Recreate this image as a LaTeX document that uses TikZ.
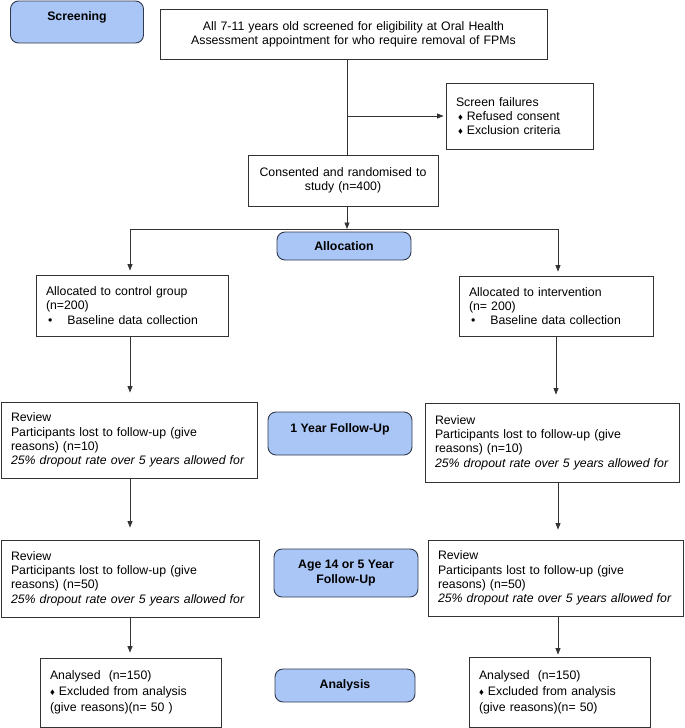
\documentclass[tikz,border=0pt]{standalone}
\usepackage{fontspec}
\setmainfont{Liberation Sans}
\usetikzlibrary{arrows.meta}
\definecolor{phasefill}{RGB}{170,198,246}
\definecolor{phasedraw}{RGB}{48,58,78}
\newcommand{\dmd}{{\fontsize{9.5}{9.5}\selectfont ♦}}
\tikzset{
  flowbox/.style = {draw=black!80, line width=0.8pt, inner xsep=10pt, inner ysep=0pt, align=left,
    font=\fontsize{12.3}{14.3}\selectfont},
  midbox/.style = {flowbox, align=center},
  phase/.style = {draw=phasedraw, fill=phasefill, rounded corners=8pt, line width=0.9pt, align=center,
    inner sep=0pt, font=\fontsize{12.3}{14.3}\selectfont\bfseries},
  box size/.code 2 args = {\pgfmathsetlengthmacro\boxtw{#1pt-20pt}%
    \edef\boxopts{\noexpand\tikzset{minimum width=#1pt, minimum height=#2pt, text width=\boxtw}}\boxopts},
  flowline/.style = {draw=black!80, line width=0.8pt},
  flowarrow/.style = {flowline, -{Triangle[length=6.5pt,width=5pt]}},
}
\begin{document}
\begin{tikzpicture}[x=1pt, y=-1pt]
  \useasboundingbox (0,0) rectangle (685,728);
  \node [phase, minimum width=133pt, minimum height=42pt, text height=9pt, text depth=13pt] (scr) at (77,22) {Screening};
  \node [midbox, box size={387}{50}] (elig) at (353.5,34)
    {All 7-11 years old screened for eligibility at Oral Health\\Assessment appointment for who require removal of FPMs};
  \node [flowbox, box size={147}{66}] (fail) at (519.5,116)
    {Screen failures\\\hspace*{2pt}\dmd\hspace{4pt}Refused consent\\\hspace*{2pt}\dmd\hspace{4pt}Exclusion criteria};
  \node [midbox, box size={190}{51}] (cons) at (343,180.5) {Consented and randomised to\\study (n=400)};

  \node [phase, minimum width=134pt, minimum height=28pt] (alloc) at (344,246) {Allocation};
  \node [flowbox, box size={192}{61}] (ctrl) at (132,305.5)
    {Allocated to control group\\(n=200)\\\hspace*{2pt}\textbullet\hspace{15pt}Baseline data collection};
  \node [flowbox, box size={194}{60}] (intv) at (556,306)
    {Allocated to intervention\\(n= 200)\\\hspace*{2pt}\textbullet\hspace{15pt}Baseline data collection};

  \node [phase, minimum width=144pt, minimum height=43pt, text height=9pt, text depth=12pt] (fu1) at (340,433.5) {1 Year Follow-Up};
  \node [flowbox, box size={256}{76}] (rev1c) at (129,440)
    {Review\\Participants lost to follow-up (give\\reasons) (n=10)\\\textit{25\% dropout rate over 5 years allowed for}};
  \node [flowbox, box size={254}{79}] (rev1i) at (552,442.5)
    {Review\\Participants lost to follow-up (give\\reasons) (n=10)\\\textit{25\% dropout rate over 5 years allowed for}};

  \node [phase, minimum width=144pt, minimum height=48pt] (fu2) at (346,573) {Age 14 or 5 Year\\Follow-Up};
  \node [flowbox, box size={258}{77}] (rev2c) at (130,578.5)
    {Review\\Participants lost to follow-up (give\\reasons) (n=50)\\\textit{25\% dropout rate over 5 years allowed for}};
  \node [flowbox, box size={255}{76}] (rev2i) at (555.5,578)
    {Review\\Participants lost to follow-up (give\\reasons) (n=50)\\\textit{25\% dropout rate over 5 years allowed for}};

  \node [phase, minimum width=140pt, minimum height=33pt] (ana) at (345,685.5) {Analysis};
  \node [flowbox, box size={181}{69}] (anc) at (130.5,692.5)
    {Analysed\ \ (n=150)\\[1.7pt]\dmd\ Excluded from analysis\\[1.7pt](give reasons)(n= 50 )};
  \node [flowbox, box size={181}{70}] (ani) at (559.5,692)
    {Analysed\ \ (n=150)\\[1.7pt]\dmd\ Excluded from analysis\\[1.7pt](give reasons)(n= 50)};

  \coordinate (spine) at (347,0);
  \coordinate (lsplit) at (130,229);
  \coordinate (rsplit) at (558,229);
  \draw [flowline] (spine |- elig.south) -- (spine |- cons.north);
  \draw [flowarrow, shorten >=2pt] (spine |- fail.west) -- (fail.west);
  \draw [flowarrow] (spine |- cons.south) -- (spine |- lsplit);
  \draw [flowline] (lsplit) -- (rsplit);
  \draw [flowarrow, shorten >=4pt] (lsplit) -- (lsplit |- ctrl.north);
  \draw [flowarrow, shorten >=4pt] (rsplit) -- (rsplit |- intv.north);
  \draw [flowarrow, shorten >=9pt] (lsplit |- ctrl.south) -- (lsplit |- rev1c.north);
  \draw [flowarrow, shorten >=8pt] (intv.south) -- (intv.south |- rev1i.north);
  \draw [flowarrow, shorten >=12pt] (lsplit |- rev1c.south) -- (lsplit |- rev2c.north);
  \draw [flowarrow, shorten >=10pt] (rsplit |- rev1i.south) -- (rsplit |- rev2i.north);
  \draw [flowarrow, shorten >=5pt] (lsplit |- rev2c.south) -- (lsplit |- anc.north);
  \draw [flowarrow, shorten >=2pt] (rsplit |- rev2i.south) -- (rsplit |- ani.north);
\end{tikzpicture}
\end{document}
